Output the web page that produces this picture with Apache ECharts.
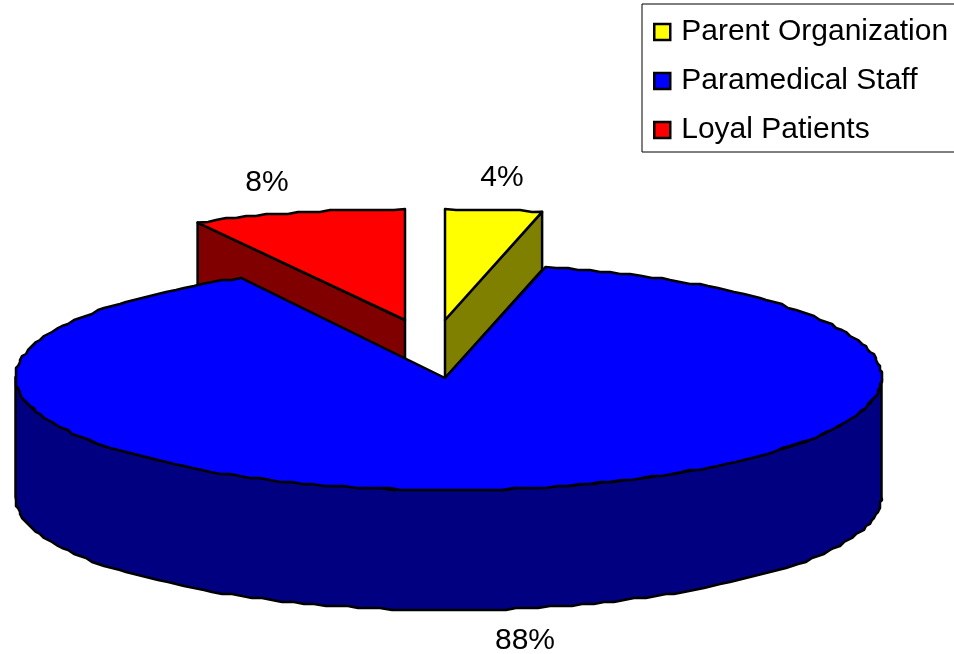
<!DOCTYPE html>
<html>
<head>
<meta charset="utf-8">
<title>Pie</title>
<script src="https://cdn.jsdelivr.net/npm/echarts@6/dist/echarts.min.js"></script>
<style>
    html, body { margin: 0; padding: 0; background: #fff; }
    #chart { width: 954px; height: 654px; }
</style>
</head>
<body>
<div id="chart"></div>
<script>
// clockwise from 12 o'clock, percent
const categories = ['Parent Organization', 'Paramedical Staff', 'Loyal Patients'];
const shares = [3.6, 88.45, 7.95];
const topColors = ['#ffff00', '#0000ff', '#ff0000'];
const wallColors = ['#808000', '#000080', '#800000'];

// drawing order, the big slice sits in front of the other two
const drawOrder = [2, 0, 1];

const slicePlace = [
    { apexX: 445, apexY: 320, arcX: 445, arcY: 320, rx: 433, ry: 111, depth: 58, labelX: 502, labelY: 178 },
    { apexX: 445, apexY: 378, arcX: 448.5, arcY: 377, rx: 433, ry: 113, depth: 120, labelX: 525, labelY: 641 },
    { apexX: 405, apexY: 320, arcX: 405, arcY: 320, rx: 433, ry: 111, depth: 66, labelX: 267, labelY: 183 }
];

// snapping gives the rough outline of the original picture
function snap(v) {
    return Math.round(v / 2) * 2;
}

function arcPoints(place, fromDeg, toDeg) {
    const pts = [];
    const n = Math.ceil(Math.abs(toDeg - fromDeg) / 1.5);
    for (let i = 0; i <= n; i++) {
        const t = (fromDeg + (toDeg - fromDeg) * i / n) * Math.PI / 180;
        const x = place.arcX + place.rx * Math.cos(t);
        const y = place.arcY - place.ry * Math.sin(t);
        pts.push(i === 0 || i === n ? [x, y] : [snap(x), snap(y)]);
    }
    return pts;
}

function makeRenderItem(idx) {
    const place = slicePlace[idx];
    return function (params, api) {
        const total = shares.reduce((a, b) => a + b, 0);
        const before = shares.slice(0, idx).reduce((a, b) => a + b, 0);
        const start = 90 - before / total * 360;
        const end = start - api.value(0) / total * 360;
        const line = { stroke: '#000', lineWidth: 2.5, lineJoin: 'round' };
        const children = [];
        const rim = arcPoints(place, start, end);
        const first = rim[0], last = rim[rim.length - 1];
        const d = place.depth;

        if (idx === 0) {
            // right cut face
            children.push({ type: 'polygon', shape: { points: [
                [place.apexX, place.apexY], last, [last[0], last[1] + d], [place.apexX, place.apexY + d]
            ] }, style: Object.assign({ fill: wallColors[idx] }, line) });
        }
        if (idx === 2) {
            // left cut face
            children.push({ type: 'polygon', shape: { points: [
                [place.apexX, place.apexY], first, [first[0], first[1] + d], [place.apexX, place.apexY + d]
            ] }, style: Object.assign({ fill: wallColors[idx] }, line) });
        }
        if (idx === 1) {
            // outer wall, only the front half of the ellipse shows
            const front = arcPoints(place, 0, -180);
            const lower = front.map((p) => [p[0], p[1] + d]).reverse();
            children.push({ type: 'polygon', shape: { points: front.concat(lower) },
                style: Object.assign({ fill: wallColors[idx] }, line) });
        }
        children.push({ type: 'polygon', shape: { points: [[place.apexX, place.apexY]].concat(rim) },
            style: Object.assign({ fill: topColors[idx] }, line) });
        children.push({ type: 'text', style: {
            text: Math.round(api.value(0)) + '%',
            x: place.labelX, y: place.labelY,
            align: 'center', verticalAlign: 'middle',
            font: '30px "Liberation Sans"', fill: '#000'
        } });
        return { type: 'group', children: children };
    };
}

var pieChart = echarts.init(document.getElementById('chart'));

pieChart.setOption({
    animation: false,
    backgroundColor: '#fff',
    legend: {
        orient: 'vertical',
        left: 642,
        top: 4,
        padding: [13, 20, 7, 11],
        backgroundColor: '#fff',
        borderColor: '#000',
        borderWidth: 1,
        icon: 'rect',
        itemWidth: 16,
        itemHeight: 16,
        itemGap: 19,
        selectedMode: false,
        data: categories,
        itemStyle: { borderColor: '#000', borderWidth: 2.5 },
        textStyle: {
            fontFamily: 'Liberation Sans',
            fontSize: 30,
            color: '#000',
            padding: [0, 0, 6, 6],
        },
    },
    series: drawOrder.map((i) => ({
        name: categories[i],
        type: 'custom',
        coordinateSystem: 'none',
        z: 2 + drawOrder.indexOf(i),
        silent: true,
        itemStyle: { color: topColors[i] },
        renderItem: makeRenderItem(i),
        data: [[shares[i]]],
    })),
});

window.addEventListener('resize', function () {
    pieChart.resize();
});
</script>
</body>
</html>
